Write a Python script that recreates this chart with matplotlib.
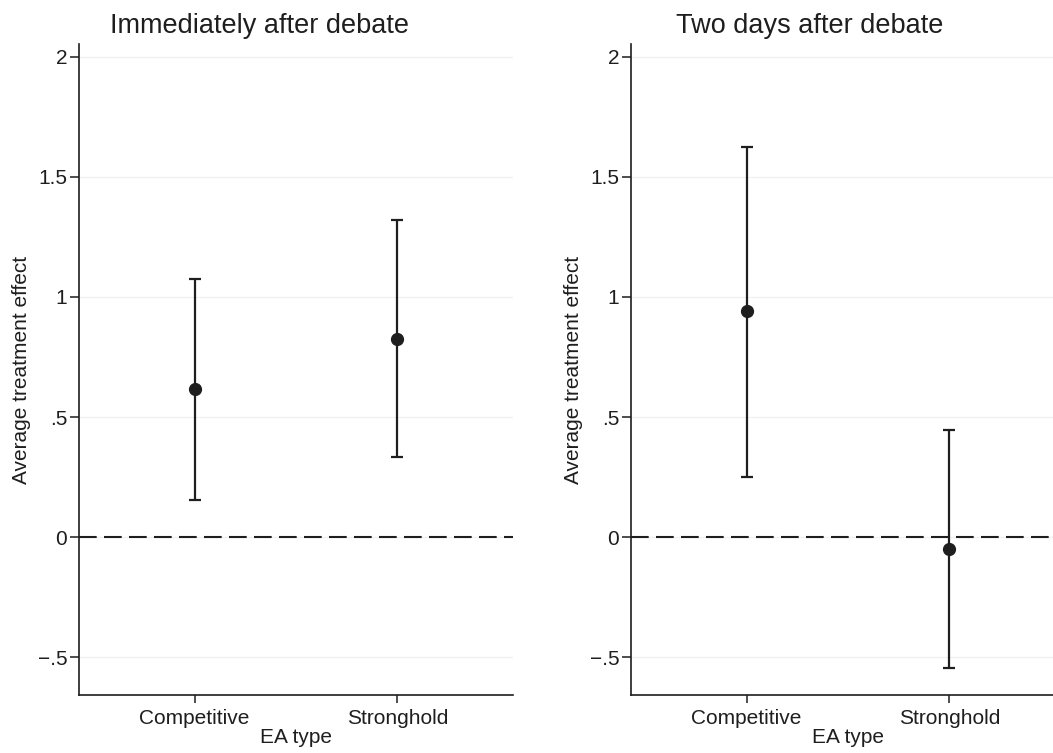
import matplotlib
matplotlib.use("Agg")
import matplotlib.pyplot as plt

plt.rcParams["font.family"] = ["Liberation Sans", "DejaVu Sans"]

categories = ["Competitive", "Stronghold"]
panel_titles = ["Immediately after debate", "Two days after debate"]

# point estimates and 95% CI bounds, per panel
immediate_est = [0.615, 0.825]
immediate_lo = [0.155, 0.333]
immediate_hi = [1.075, 1.320]

twoday_est = [0.940, -0.050]
twoday_lo = [0.250, -0.545]
twoday_hi = [1.625, 0.445]

y_ticks = [-0.5, 0, 0.5, 1, 1.5, 2]
y_ticklabels = ["\u2212.5", "0", ".5", "1", "1.5", "2"]

ink = "#1e1e1e"

fig = plt.figure(figsize=(10.53, 7.53), dpi=100)
ax_left = fig.add_axes([0.0750, 0.0770, 0.4122, 0.8646])
ax_right = fig.add_axes([0.5992, 0.0770, 0.4122, 0.8646])

panels = [
    (ax_left, immediate_est, immediate_lo, immediate_hi),
    (ax_right, twoday_est, twoday_lo, twoday_hi),
]

xs = list(range(1, len(categories) + 1))

for ax, est, lo, hi in panels:
    for y in y_ticks:
        ax.axhline(y, color="#f0f0f0", lw=1.0, zorder=0)
    ax.axhline(0, color=ink, lw=1.5, dashes=(8.5, 3.5), zorder=1)

    err = [[e - l for e, l in zip(est, lo)], [h - e for e, h in zip(est, hi)]]
    ax.errorbar(xs, est, yerr=err, fmt="o", color=ink, ms=8.5,
                elinewidth=1.6, capsize=4.2, capthick=1.6, zorder=3)

    ax.set_xlim(0.43, 2.57)
    ax.set_ylim(-0.658, 2.054)
    ax.set_xticks(xs)
    ax.set_xticklabels(categories, fontsize=15, color=ink)
    ax.set_yticks(y_ticks)
    ax.set_yticklabels(y_ticklabels, fontsize=15, color=ink)
    ax.tick_params(axis="y", length=6.5, width=1.1, pad=2, color=ink)
    ax.tick_params(axis="x", length=6, width=1.1, pad=4, color=ink)

    ax.spines["top"].set_visible(False)
    ax.spines["right"].set_visible(False)
    for side in ["left", "bottom"]:
        ax.spines[side].set_color(ink)
        ax.spines[side].set_linewidth(1.2)

    ax.set_ylabel("Average treatment effect", fontsize=15, color=ink, labelpad=5)
    ax.set_xlabel("EA type", fontsize=15, color=ink, labelpad=0)

fig.text(259 / 1053, 1 - 33 / 753, panel_titles[0], fontsize=19.5,
         color=ink, ha="center", va="baseline")
fig.text(810 / 1053, 1 - 33 / 753, panel_titles[1], fontsize=19.5,
         color=ink, ha="center", va="baseline")

fig.savefig("out.png", dpi=100)
